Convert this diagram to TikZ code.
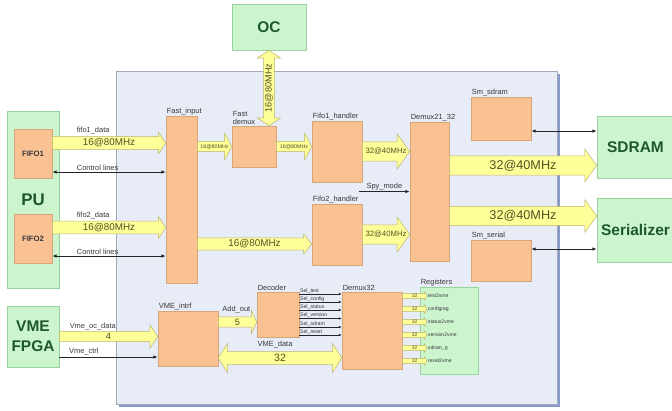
\documentclass[tikz,border=0pt]{standalone}
\usepackage{fontspec}
\setmainfont{Liberation Sans}
\usetikzlibrary{calc, arrows.meta}

\definecolor{panelfill}{RGB}{232,236,247}
\definecolor{panelline}{RGB}{160,168,185}
\definecolor{panelshade}{RGB}{135,155,200}
\definecolor{greenfill}{RGB}{204,245,206}
\definecolor{greenline}{RGB}{150,212,155}
\definecolor{greentext}{RGB}{28,88,42}
\definecolor{orangefill}{RGB}{250,194,146}
\definecolor{orangeline}{RGB}{214,166,122}
\definecolor{yelfill}{RGB}{255,255,153}
\definecolor{yelline}{RGB}{185,180,110}
\definecolor{arrtext}{RGB}{85,80,35}
\definecolor{lbltext}{RGB}{55,55,60}
\definecolor{wire}{RGB}{35,35,40}

\begin{document}
\begin{tikzpicture}[x=0.025cm, y=-0.025cm,
    greenbox/.style={draw=greenline, fill=greenfill, text=greentext, align=center, inner sep=0pt,
                     font=\fontsize{11}{14.5}\selectfont\bfseries},
    orangebox/.style={draw=orangeline, fill=orangefill, inner sep=0pt, text=lbltext,
                      font=\fontsize{5.5}{6}\selectfont\bfseries},
    boxlbl/.style={font=\fontsize{5.3}{6}\selectfont, text=lbltext, inner sep=0.6pt, anchor=south west},
    lbl/.style={font=\fontsize{5.3}{6}\selectfont, text=lbltext, inner sep=0.8pt},
    sellbl/.style={font=\fontsize{3.7}{4}\selectfont, text=lbltext, inner sep=0.4pt, anchor=south west},
    reglbl/.style={font=\fontsize{3.6}{4}\selectfont, text=lbltext, inner sep=0.5pt, anchor=west},
    thinarrow/.style={-{Latex[length=3pt,width=2.4pt]}, line width=0.6pt, draw=wire},
    twoway/.style={{Latex[length=3pt,width=2.4pt]}-{Latex[length=3pt,width=2.4pt]}, line width=0.6pt, draw=wire},
    selline/.style={-{Latex[length=2pt,width=1.6pt]}, line width=0.35pt, draw=wire},
    fat body/.store in=\fatbody, fat head/.store in=\fathead, fat len/.store in=\fatlen,
    fat body=4pt, fat head=7pt, fat len=5pt,
    fattext/.style={inner sep=0pt, text=arrtext},
    fat/.style 2 args={draw=yelline, fill=yelfill, line width=0.35pt,
      to path={
        ($(\tikztotarget)!\fatlen!(\tikztostart)$) coordinate (ft)
        ($(\tikztostart)!\fatbody!90:(\tikztotarget)$)
        -- ($(ft)!\fatbody!90:(\tikztotarget)$)
        -- ($(ft)!\fathead!90:(\tikztotarget)$)
        -- (\tikztotarget)
        -- ($(ft)!\fathead!-90:(\tikztotarget)$)
        -- ($(ft)!\fatbody!-90:(\tikztotarget)$)
        -- ($(\tikztostart)!\fatbody!-90:(\tikztotarget)$)
        -- cycle
        ($(\tikztostart)!.5!(\tikztotarget)$) node[fattext, #1] {#2}}},
    fatboth/.style 2 args={draw=yelline, fill=yelfill, line width=0.35pt,
      to path={
        ($(\tikztotarget)!\fatlen!(\tikztostart)$) coordinate (ft)
        ($(\tikztostart)!\fatlen!(\tikztotarget)$) coordinate (fs)
        (\tikztostart)
        -- ($(fs)!\fathead!90:(\tikztotarget)$)
        -- ($(fs)!\fatbody!90:(\tikztotarget)$)
        -- ($(ft)!\fatbody!90:(\tikztotarget)$)
        -- ($(ft)!\fathead!90:(\tikztotarget)$)
        -- (\tikztotarget)
        -- ($(ft)!\fathead!-90:(\tikztotarget)$)
        -- ($(ft)!\fatbody!-90:(\tikztotarget)$)
        -- ($(fs)!\fatbody!-90:(\tikztotarget)$)
        -- ($(fs)!\fathead!-90:(\tikztotarget)$)
        -- cycle
        ($(\tikztostart)!.5!(\tikztotarget)$) node[fattext, #1] {#2}}},
    bus16/.style={fat body=4.6pt, fat head=7.5pt, fat len=5pt},
    bussmall/.style={fat body=3.6pt, fat head=9.4pt, fat len=5pt},
    bus32/.style={fat body=6.8pt, fat head=12.5pt, fat len=9pt},
    busout/.style={fat body=6.8pt, fat head=11.7pt, fat len=8.5pt},
    busvme/.style={fat body=3.6pt, fat head=8.2pt, fat len=5.5pt},
    busreg/.style={fat body=1.8pt, fat head=3.2pt, fat len=2.1pt}
]
    \useasboundingbox (0,0) rectangle (672,410);

    % FPGA panel with its shadow
    \fill[panelshade] (119,74) rectangle (559.5,406.5);
    \draw[draw=panelline, fill=panelfill, line width=0.5pt] (116,71) rectangle (557,404);

    % outside blocks
    \node[greenbox, minimum width=1.3cm, minimum height=4.425cm, font=\fontsize{12}{14}\selectfont\bfseries] (pu) at (33,199.5) {PU};
    \node[orangebox, minimum width=0.95cm, minimum height=1.225cm] (fifo1) at (33,153.5) {FIFO1};
    \node[orangebox, minimum width=0.95cm, minimum height=1.225cm] (fifo2) at (33,238.5) {FIFO2};
    \node[greenbox, minimum width=1.3cm, minimum height=1.525cm] (vmefpga) at (33,336.5) {VME\\FPGA};
    \node[greenbox, minimum width=1.85cm, minimum height=1.15cm] (oc) at (269,27) {OC};
    \node[greenbox, minimum width=1.925cm, minimum height=1.55cm] (sdram) at (635.5,147) {SDRAM};
    \node[greenbox, minimum width=1.925cm, minimum height=1.6cm] (serializer) at (635.5,230) {Serializer};

    % blocks inside the FPGA
    \node[orangebox, minimum width=0.775cm, minimum height=4.175cm,
          label={[boxlbl]north west:Fast\_input}] (fastin) at (181.5,199.5) {};
    \node[orangebox, minimum width=1.1cm, minimum height=1.025cm,
          label={[boxlbl, align=left]north west:Fast\\demux}] (fastdemux) at (254,146.5) {};
    \node[orangebox, minimum width=1.25cm, minimum height=1.525cm,
          label={[boxlbl]north west:Fifo1\_handler}] (fifo1h) at (337,151.5) {};
    \node[orangebox, minimum width=1.25cm, minimum height=1.525cm,
          label={[boxlbl]north west:Fifo2\_handler}] (fifo2h) at (337,234.5) {};
    \node[orangebox, minimum width=0.975cm, minimum height=3.475cm,
          label={[boxlbl]north west:Demux21\_32}] (demux21) at (429.5,191.5) {};
    \node[orangebox, minimum width=1.5cm, minimum height=1.075cm,
          label={[boxlbl]north west:Sm\_sdram}] (smsdram) at (501,118.5) {};
    \node[orangebox, minimum width=1.5cm, minimum height=1.025cm,
          label={[boxlbl]north west:Sm\_serial}] (smserial) at (501,260.5) {};
    \node[orangebox, minimum width=1.5cm, minimum height=1.375cm,
          label={[boxlbl]north west:VME\_intrf}] (vmeintrf) at (188,338.5) {};
    \node[orangebox, minimum width=1.05cm, minimum height=1.125cm,
          label={[boxlbl]north west:Decoder}] (decoder) at (278,314.5) {};
    \node[orangebox, minimum width=1.5cm, minimum height=1.925cm,
          label={[boxlbl]north west:Demux32}] (demux32) at (372,330.5) {};
    \node[draw=greenline, fill=greenfill, minimum width=1.45cm, minimum height=2.175cm,
          label={[boxlbl]north west:Registers}] (regs) at (449,330.5) {};

    % rows of the connectors
    \coordinate (fifo1data) at (0,143);
    \coordinate (ctrl1)     at (0,172);
    \coordinate (fifo2data) at (0,227.5);
    \coordinate (ctrl2)     at (0,256);
    \coordinate (fast2)     at (0,244);
    \coordinate (out1)      at (0,165.5);
    \coordinate (out2)      at (0,216);
    \coordinate (memrow)    at (0,131);
    \coordinate (serrow)    at (0,249);
    \coordinate (vmectrl)   at (0,357);
    \coordinate (addrow)    at (0,322);
    \coordinate (datarow)   at (0,358);
    \coordinate (spy)       at (359,191.5);

    % -- PU to Fast_input --
    \draw[bus16, fat={font=\fontsize{7}{8}\selectfont}{16@80MHz}] (fifo1.east |- fifo1data) to (fastin.west |- fifo1data);
    \node[lbl, anchor=south] (fifo1lbl) at ($(fifo1.east |- fifo1data)!0.36!(fastin.west |- fifo1data)+(0,-7.5)$) {fifo1\_data};
    \draw[twoway] (fifo1.east |- ctrl1) -- node[lbl, above, pos=0.4] (ctrl1lbl) {Control lines} (fastin.west |- ctrl1);
    \draw[bus16, fat={font=\fontsize{7}{8}\selectfont}{16@80MHz}] (fifo2.east |- fifo2data) to (fastin.west |- fifo2data);
    \node[lbl, anchor=south] (fifo2lbl) at ($(fifo2.east |- fifo2data)!0.36!(fastin.west |- fifo2data)+(0,-7.5)$) {fifo2\_data};
    \draw[twoway] (fifo2.east |- ctrl2) -- node[lbl, above, pos=0.4] (ctrl2lbl) {Control lines} (fastin.west |- ctrl2);

    % -- fast path --
    \draw[bussmall, fat={font=\fontsize{3.8}{4}\selectfont}{16@80MHz}] (fastin.east |- fastdemux.west) to (fastdemux.west);
    \draw[bussmall, fat={font=\fontsize{3.8}{4}\selectfont}{16@80MHz}] (fastdemux.east) to (fifo1h.west |- fastdemux.east);
    \draw[busvme, fat body=3.9pt, fatboth={rotate=90, font=\fontsize{6.5}{7}\selectfont}{16@80MHz}] (oc.south) to (fastdemux.north -| oc.south);
    \draw[bus16, fat head=7.1pt, fat len=5.7pt, fat body=4.3pt, fat={font=\fontsize{7}{8}\selectfont}{16@80MHz}] (fastin.east |- fast2) to (fifo2h.west |- fast2);
    \draw[bus32, fat={font=\fontsize{5.5}{6}\selectfont}{32@40MHz}] (fifo1h.east) to (demux21.west |- fifo1h.east);
    \draw[bus32, fat={font=\fontsize{5.5}{6}\selectfont}{32@40MHz}] (fifo2h.east) to (demux21.west |- fifo2h.east);
    \draw[thinarrow] (spy) -- node[lbl, above] (spylbl) {Spy\_mode} (demux21.west |- spy);

    % -- outputs --
    \draw[busout, fat={font=\fontsize{9}{10}\selectfont}{32@40MHz}] (demux21.east |- out1) to (sdram.west |- out1);
    \draw[busout, fat={font=\fontsize{9}{10}\selectfont}{32@40MHz}] (demux21.east |- out2) to (serializer.west |- out2);
    \draw[twoway] (smsdram.east |- memrow) -- (sdram.west |- memrow);
    \draw[twoway] (smserial.east |- serrow) -- (serializer.west |- serrow);

    % -- VME side --
    \draw[busvme, fat={font=\fontsize{6.5}{7}\selectfont}{4}] (vmefpga.east) to (vmeintrf.west |- vmefpga.east);
    \node[lbl, anchor=south] (vmedatalbl) at ($(vmefpga.east)!0.34!(vmeintrf.west |- vmefpga.east)+(0,-5)$) {Vme\_oc\_data};
    \draw[thinarrow] (vmefpga.east |- vmectrl) -- node[lbl, above, pos=0.25] (vmectrllbl) {Vme\_ctrl} (vmeintrf.west |- vmectrl);
    \draw[busvme, fat len=3.8pt, fat={font=\fontsize{6.5}{7}\selectfont}{5}] (vmeintrf.east |- addrow) to (decoder.west |- addrow);
    \node[lbl, anchor=south] (addlbl) at ($(vmeintrf.east |- addrow)!0.47!(decoder.west |- addrow)+(0,-8)$) {Add\_out};
    \draw[bus16, fat head=10.3pt, fat len=6.4pt, fatboth={font=\fontsize{7.5}{8}\selectfont}{32}] (vmeintrf.east |- datarow) to (demux32.west |- datarow);
    \node[lbl, anchor=south] (vmebuslbl) at ($(vmeintrf.east |- datarow)!0.46!(demux32.west |- datarow)+(0,-9)$) {VME\_data};

    % -- decoder selects --
    \coordinate (s1) at (0,294);
    \coordinate (s2) at (0,302);
    \coordinate (s3) at (0,310);
    \coordinate (s4) at (0,318.5);
    \coordinate (s5) at (0,327);
    \coordinate (s6) at (0,335);
    \draw[selline] (decoder.east |- s1) -- node[sellbl, pos=0] (sl1) {Sel\_test}    (demux32.west |- s1);
    \draw[selline] (decoder.east |- s2) -- node[sellbl, pos=0] (sl2) {Sel\_config}  (demux32.west |- s2);
    \draw[selline] (decoder.east |- s3) -- node[sellbl, pos=0] (sl3) {Sel\_status}  (demux32.west |- s3);
    \draw[selline] (decoder.east |- s4) -- node[sellbl, pos=0] (sl4) {Sel\_version} (demux32.west |- s4);
    \draw[selline] (decoder.east |- s5) -- node[sellbl, pos=0] (sl5) {Sel\_sdram}   (demux32.west |- s5);
    \draw[selline] (decoder.east |- s6) -- node[sellbl, pos=0] (sl6) {Sel\_reset}   (demux32.west |- s6);

    % -- registers --
    \coordinate (t1) at (427,296);
    \coordinate (t2) at (427,309);
    \coordinate (t3) at (427,322);
    \coordinate (t4) at (427,335);
    \coordinate (t5) at (427,348);
    \coordinate (t6) at (427,361);
    \draw[busreg, fat={font=\fontsize{3.6}{4}\selectfont}{32}] (demux32.east |- t1) to (t1);
    \draw[busreg, fat={font=\fontsize{3.6}{4}\selectfont}{32}] (demux32.east |- t2) to (t2);
    \draw[busreg, fat={font=\fontsize{3.6}{4}\selectfont}{32}] (demux32.east |- t3) to (t3);
    \draw[busreg, fat={font=\fontsize{3.6}{4}\selectfont}{32}] (demux32.east |- t4) to (t4);
    \draw[busreg, fat={font=\fontsize{3.6}{4}\selectfont}{32}] (demux32.east |- t5) to (t5);
    \draw[busreg, fat={font=\fontsize{3.6}{4}\selectfont}{32}] (demux32.east |- t6) to (t6);
    \node[reglbl] (rl1) at (t1) {test2vme};
    \node[reglbl] (rl2) at (t2) {configreg};
    \node[reglbl] (rl3) at (t3) {status2vme};
    \node[reglbl] (rl4) at (t4) {version2vme};
    \node[reglbl] (rl5) at (t5) {sdram\_q};
    \node[reglbl] (rl6) at (t6) {reset2vme};
\end{tikzpicture}
\end{document}
